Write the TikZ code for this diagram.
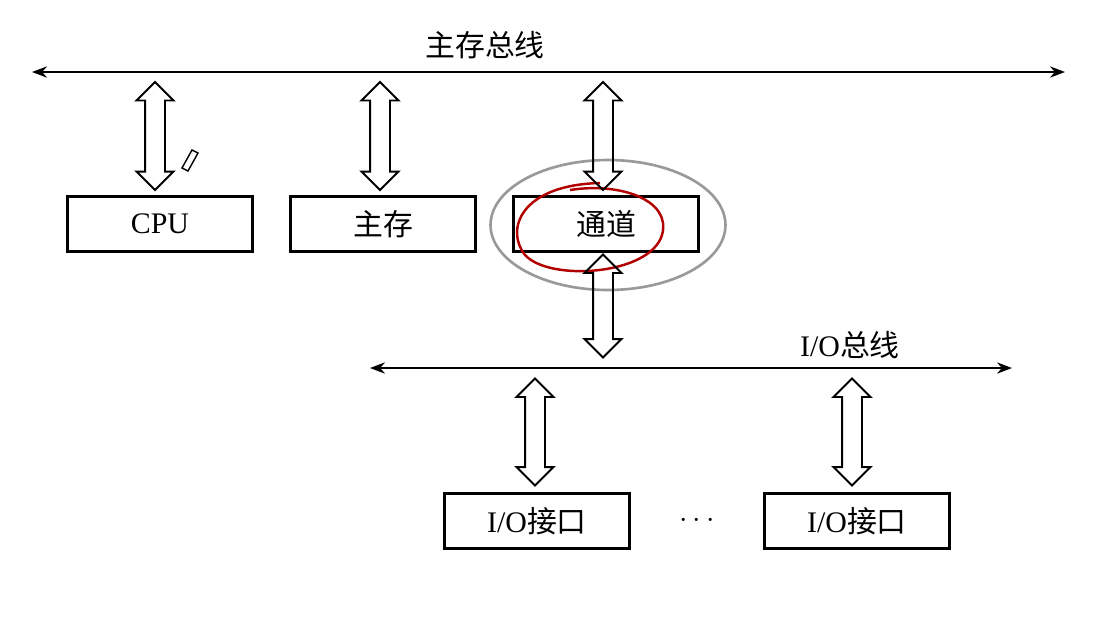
\documentclass[tikz,border=0pt]{standalone}
\usepackage{fontspec}
\setmainfont{Liberation Serif}
\newfontfamily\cjk{Noto Sans CJK SC}
\usetikzlibrary{arrows.meta,shapes.arrows,shapes.geometric}
\tikzset{
  unitbox/.style={draw,line width=1.2pt,minimum width=3.7cm,minimum height=1.1cm,font=\fontsize{17}{20}\selectfont},
  busline/.style={line width=1pt,{Stealth[length=3mm]}-{Stealth[length=3mm]}},
  fatarrow/.style={double arrow,draw,line width=1.1pt,rotate=90,
    double arrow head extend=0.17cm,double arrow head indent=0cm,inner sep=0pt},
}
\newcommand\shaft{\rule{0pt}{0.36cm}}
\begin{document}
\begin{tikzpicture}[x=0.02cm,y=-0.02cm]
    \useasboundingbox (0,0) rectangle (1099,627);
    \fill[white] (0,0) rectangle (1099,627);
    % main bus
    \coordinate (mL) at (32,72);
    \coordinate (mR) at (1065,72);
    \draw [busline] (mL) -- (mR);
    \node (mlab) at (485,45) {\cjk\fontsize{17}{20}\selectfont 主存总线};
    % units
    \node [unitbox] (cpu) at (160,224) {CPU};
    \node [unitbox] (mem) at (383,224) {\cjk 主存};
    \node [unitbox] (chan) at (606,224) {\cjk 通道};
    \node [draw=gray!80,line width=1.5pt,ellipse,minimum width=4.7cm,minimum height=2.6cm] (ring) at (608,225) {};
    \draw [red!70!black,line width=1.4pt] (600,183) .. controls (520,185) and (505,230) .. (525,255)
      .. controls (550,282) and (650,275) .. (662,235) .. controls (672,200) and (620,182) .. (570,190);
    % pen
    \draw [line width=0.8pt] (182,168) -- (192,150) -- (198,153) -- (188,171) -- cycle;
    \node [fatarrow,minimum height=2.16cm] (a1) at (155,136) {\shaft};
    \node [fatarrow,minimum height=2.16cm] (a2) at (380,136) {\shaft};
    \node [fatarrow,minimum height=2.16cm] (a3) at (603,136) {\shaft};
    \node [fatarrow,minimum height=2.06cm] (a4) at (603,306) {\shaft};
    % I/O bus
    \coordinate (iL) at (370,368);
    \coordinate (iR) at (1012,368);
    \draw [busline] (iL) -- (iR);
    \node (ilab) at (850,345) {\fontsize{17}{20}\selectfont I/O\cjk 总线};
    \node [fatarrow,minimum height=2.14cm] (a5) at (535,432) {\shaft};
    \node [fatarrow,minimum height=2.14cm] (a6) at (852,432) {\shaft};
    \node [unitbox] (io1) at (537,521) {I/O\cjk 接口};
    \node [unitbox] (io2) at (857,521) {I/O\cjk 接口};
    \node [font=\fontsize{17}{20}\selectfont] (dots) at (697,521) {$\cdots$};
\end{tikzpicture}
\end{document}
